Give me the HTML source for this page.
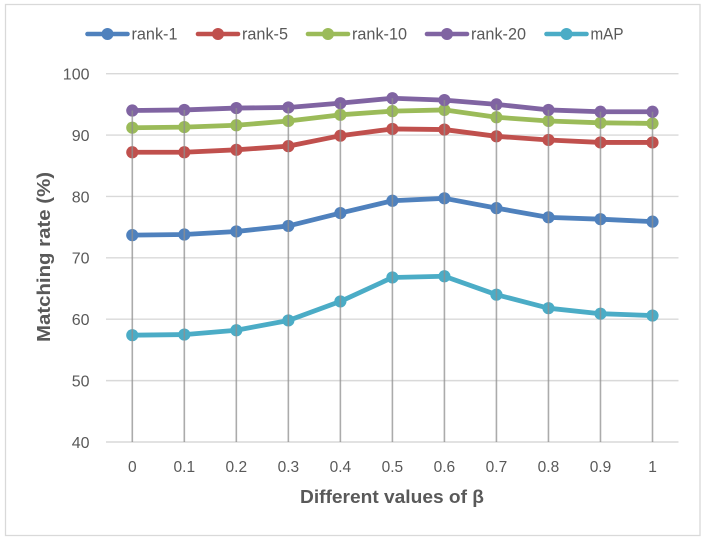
<!DOCTYPE html>
<html>
<head>
<meta charset="utf-8">
<title>Matching rate chart</title>
<style>
html,body{margin:0;padding:0;background:#fff;}
body{width:706px;height:540px;overflow:hidden;}
svg{display:block;filter:blur(0.35px);}
text{font-family:"Liberation Sans",sans-serif;fill:#595959;}
</style>
</head>
<body>
<svg id="chart" width="706" height="540" viewBox="0 0 706 540" xmlns="http://www.w3.org/2000/svg">
  <rect x="5.5" y="4.5" width="694.5" height="531" fill="#fff" stroke="#d9d9d9" stroke-width="1.3"/>
  <g id="grid"></g>
  <g id="series"></g>
  <g id="drops"></g>
  <g id="yticks"></g>
  <g id="xticks"></g>
  <g id="legend"></g>
  <text transform="translate(50,257) rotate(-90)" text-anchor="middle" font-size="18" font-weight="bold" textLength="170" lengthAdjust="spacingAndGlyphs">Matching rate (%)</text>
  <text x="392" y="503" text-anchor="middle" font-size="18" font-weight="bold" textLength="184" lengthAdjust="spacingAndGlyphs">Different values of β</text>
</svg>
<script>
const categories = ["0","0.1","0.2","0.3","0.4","0.5","0.6","0.7","0.8","0.9","1"];
const yTickValues = [40,50,60,70,80,90,100];
const rank1 = [73.7,73.8,74.3,75.2,77.3,79.3,79.7,78.1,76.6,76.3,75.9];
const rank5 = [87.2,87.2,87.6,88.2,89.9,91.0,90.9,89.8,89.2,88.8,88.8];
const rank10 = [91.2,91.3,91.6,92.3,93.3,93.9,94.1,92.9,92.3,92.0,91.9];
const rank20 = [94.0,94.1,94.4,94.5,95.2,96.0,95.7,95.0,94.1,93.8,93.8];
const mAP = [57.4,57.5,58.2,59.8,62.9,66.8,67.0,64.0,61.8,60.9,60.6];
const seriesNames = ["rank-1","rank-5","rank-10","rank-20","mAP"];
const seriesColors = ["#4f81bd","#c0504d","#9bbb59","#8064a2","#4bacc6"];
const seriesValues = [rank1,rank5,rank10,rank20,mAP];

const NS = "http://www.w3.org/2000/svg";
const plotLeft = 106, plotRight = 678.5, yBottom = 442, yTop = 73.7;
const xFirst = 132.3, xLast = 652.5;
function xScale(i){ return xFirst + (xLast - xFirst) * i / (categories.length - 1); }
function yScale(v){ return yBottom - (v - 40) * (yBottom - yTop) / 60; }
function mk(tag, attrs, parent){
  const el = document.createElementNS(NS, tag);
  for (const k in attrs) el.setAttribute(k, attrs[k]);
  parent.appendChild(el);
  return el;
}
const gridG = document.getElementById("grid");
const seriesG = document.getElementById("series");
const dropsG = document.getElementById("drops");
const yG = document.getElementById("yticks");
const xG = document.getElementById("xticks");
const legendG = document.getElementById("legend");

yTickValues.forEach(function(v){
  const line = mk("line",{x1:plotLeft,x2:plotRight,y1:yScale(v),y2:yScale(v),stroke:"#d9d9d9","stroke-width":1.4},gridG);
  
  
  const t = mk("text",{x:89.5,y:yScale(v)+5.8,"text-anchor":"end","font-size":16},yG);
  
  
  t.textContent = v;
});

categories.forEach(function(c,i){
  const t = mk("text",{x:xScale(i),y:472,"text-anchor":"middle","font-size":15.5},xG);
  
  
  t.textContent = c;
  const top = Math.max.apply(null, seriesValues.map(function(s){ return s[i]; }));
  const d = mk("line",{x1:xScale(i),x2:xScale(i),y1:yScale(top),y2:yBottom,stroke:"#8f8f8f","stroke-opacity":0.75,"stroke-width":1.6},dropsG);
  
  
});

seriesValues.forEach(function(vals,si){
  const color = seriesColors[si];
  const g = mk("g",{},seriesG);
  
  
  const pts = vals.map(function(v,i){ return xScale(i).toFixed(2)+","+yScale(v).toFixed(2); }).join(" ");
  const pl = mk("polyline",{points:pts,fill:"none",stroke:color,"stroke-width":4.8,"stroke-linejoin":"round","stroke-linecap":"round"},g);
  
  
  vals.forEach(function(v,i){
    const c = mk("circle",{cx:xScale(i),cy:yScale(v),r:6.1,fill:color},g);
    
    
  });
});

const legendLineStart = [87.5,198,308,427,546.5];
const legendTextWidth = [46,46,55,55,33];
seriesNames.forEach(function(name,i){
  const x0 = legendLineStart[i];
  const g = mk("g",{},legendG);
  
  
  const l = mk("line",{x1:x0,x2:x0+40,y1:34,y2:34,stroke:seriesColors[i],"stroke-width":4.6,"stroke-linecap":"round"},g);
  
  
  const m = mk("circle",{cx:x0+20,cy:34,r:6,fill:seriesColors[i]},g);
  
  
  const t = mk("text",{x:x0+44,y:39.5,"font-size":16.5,textLength:legendTextWidth[i],lengthAdjust:"spacingAndGlyphs"},g);
  
  
  t.textContent = name;
});
</script>
</body>
</html>
